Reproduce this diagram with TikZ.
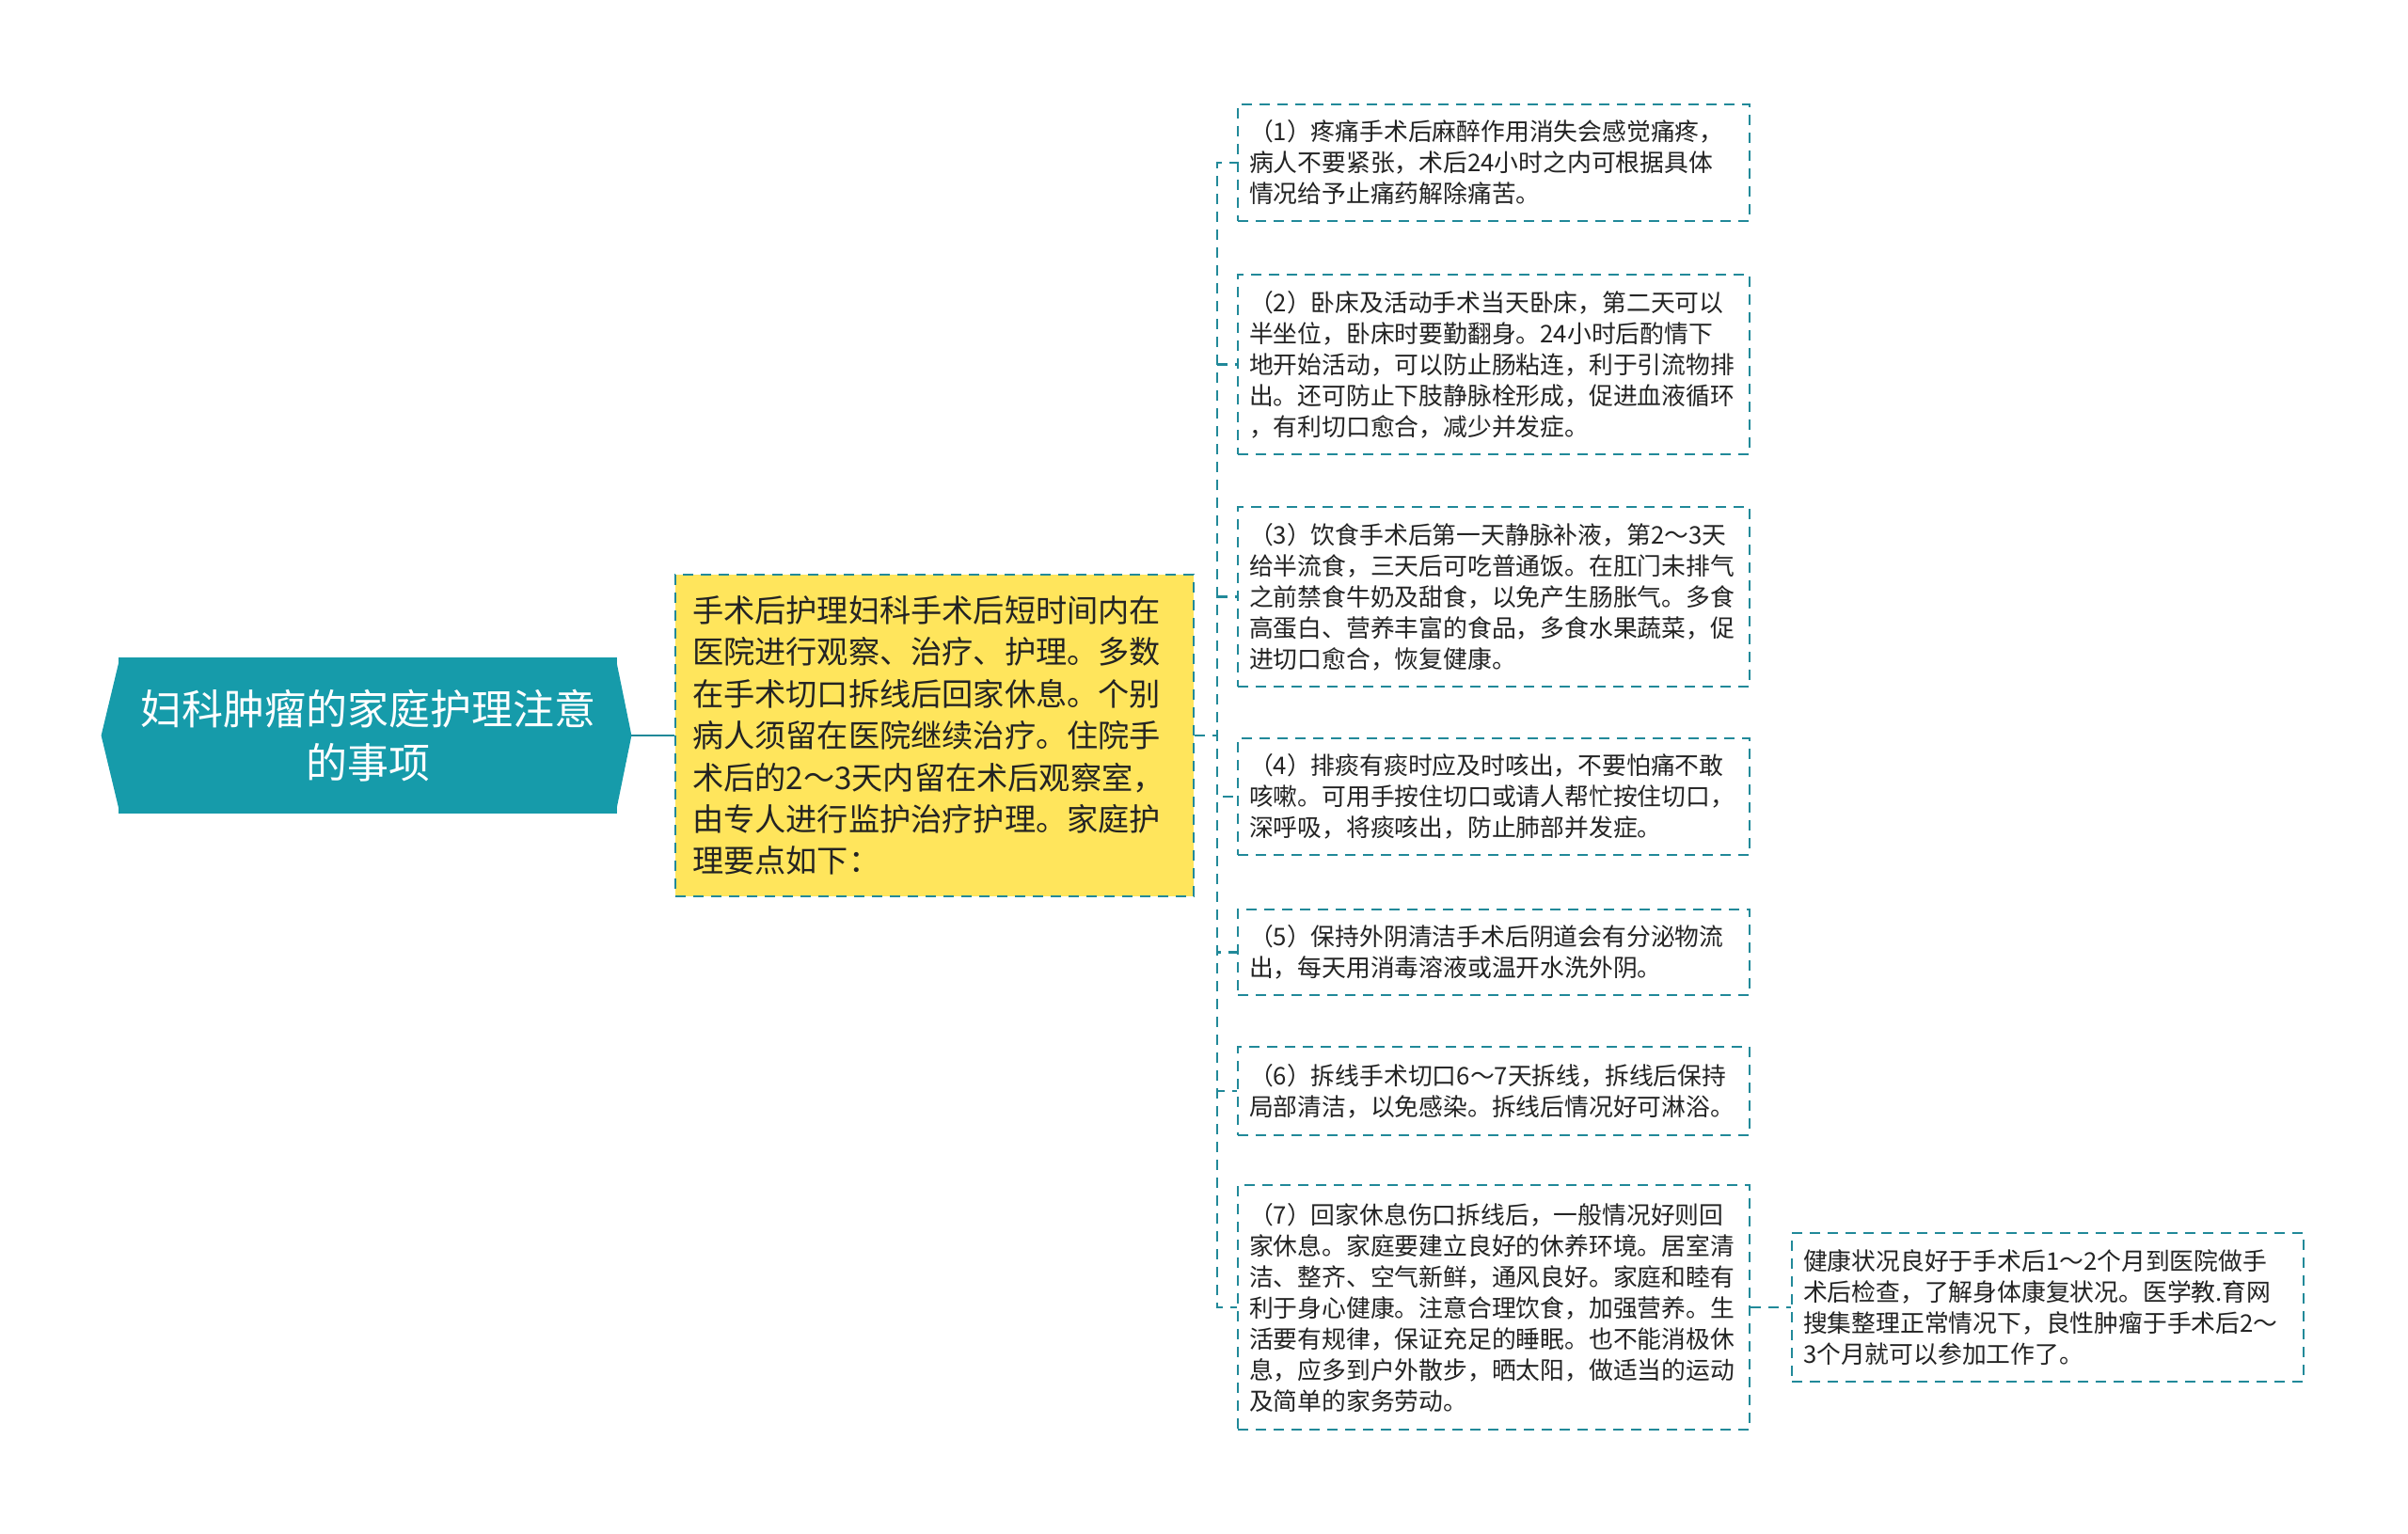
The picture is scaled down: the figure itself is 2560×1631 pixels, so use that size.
\documentclass[tikz,border=0pt]{standalone}
\usepackage{fontspec}
\setmainfont{Noto Sans CJK SC}
\usetikzlibrary{positioning}
\definecolor{lineteal}{RGB}{33,137,153}
\definecolor{rootteal}{RGB}{22,155,170}
\definecolor{noteyellow}{RGB}{255,229,92}
\definecolor{ink}{RGB}{35,35,35}

\begin{document}
\begin{tikzpicture}[x=0.5pt,y=-0.5pt,
    link/.style={lineteal, line width=1.1pt, dash pattern=on 5.5pt off 4pt},
    boxline/.style={draw=lineteal, line width=1.1pt, dash pattern=on 5.5pt off 4pt},
    rootbox/.style={fill=rootteal, text=white, align=center, minimum width=265pt, minimum height=83pt, font=\fontsize{22pt}{28.5pt}\selectfont},
    mainbox/.style={boxline, fill=noteyellow, text=ink, text width=257.5pt, inner xsep=9pt, minimum height=171pt, align=left, font=\fontsize{16.6pt}{22.2pt}\selectfont},
    notebox/.style={boxline, text=ink, text width=260pt, inner xsep=6pt, inner ysep=4pt, align=left, font=\fontsize{12.9pt}{16.5pt}\selectfont}]

    \useasboundingbox (0,0) rectangle (2560,1631);

    % root
    \node[rootbox] (root) at (391,782) {妇科肿瘤的家庭护理注意\\的事项};
    \fill[rootteal] ([xshift=1pt]root.north west) -- ([xshift=-9pt]root.west) -- ([xshift=1pt]root.south west) -- cycle;
    \fill[rootteal] ([xshift=-1pt]root.north east) -- ([xshift=7.5pt]root.east) -- ([xshift=-1pt]root.south east) -- cycle;
    \coordinate (roottip) at ([xshift=7.5pt]root.east);

    \node[mainbox] (main) at (993.5,782) {手术后护理妇科手术后短时间内在\\医院进行观察、治疗、护理。多数\\在手术切口拆线后回家休息。个别\\病人须留在医院继续治疗。住院手\\术后的2～3天内留在术后观察室，\\由专人进行监护治疗护理。家庭护\\理要点如下：};

    % notes
    \node[notebox, minimum height=62pt] (n1) at (1588,173) {（1）疼痛手术后麻醉作用消失会感觉痛疼，\\病人不要紧张，术后24小时之内可根据具体\\情况给予止痛药解除痛苦。};
    \node[notebox, minimum height=95.5pt] (n2) at (1588,387.5) {（2）卧床及活动手术当天卧床，第二天可以\\半坐位，卧床时要勤翻身。24小时后酌情下\\地开始活动，可以防止肠粘连，利于引流物排\\出。还可防止下肢静脉栓形成，促进血液循环\\，有利切口愈合，减少并发症。};
    \node[notebox, minimum height=95.5pt] (n3) at (1588,634.5) {（3）饮食手术后第一天静脉补液，第2～3天\\给半流食，三天后可吃普通饭。在肛门未排气\\之前禁食牛奶及甜食，以免产生肠胀气。多食\\高蛋白、营养丰富的食品，多食水果蔬菜，促\\进切口愈合，恢复健康。};
    \node[notebox, minimum height=62pt] (n4) at (1588,847) {（4）排痰有痰时应及时咳出，不要怕痛不敢\\咳嗽。可用手按住切口或请人帮忙按住切口，\\深呼吸，将痰咳出，防止肺部并发症。};
    \node[notebox, minimum height=45.5pt] (n5) at (1588,1012.5) {（5）保持外阴清洁手术后阴道会有分泌物流\\出，每天用消毒溶液或温开水洗外阴。};
    \node[notebox, minimum height=47pt] (n6) at (1588,1160) {（6）拆线手术切口6～7天拆线，拆线后保持\\局部清洁，以免感染。拆线后情况好可淋浴。};
    \node[notebox, minimum height=130pt] (n7) at (1588,1390) {（7）回家休息伤口拆线后，一般情况好则回\\家休息。家庭要建立良好的休养环境。居室清\\洁、整齐、空气新鲜，通风良好。家庭和睦有\\利于身心健康。注意合理饮食，加强营养。生\\活要有规律，保证充足的睡眠。也不能消极休\\息，应多到户外散步，晒太阳，做适当的运动\\及简单的家务劳动。};
    \node[notebox, minimum height=79pt] (n8) at (2177,1390) {健康状况良好于手术后1～2个月到医院做手\\术后检查，了解身体康复状况。医学教.育网\\搜集整理正常情况下，良性肿瘤于手术后2～\\3个月就可以参加工作了。};

    % connectors
    \draw[lineteal, line width=1.1pt] (roottip) -- (main.west);
    \foreach \b in {n1,n2,n3,n4,n5,n6,n7}
        \draw[link] (main.east) -- ++(24,0) |- (\b.west);
    \draw[link] (n7.east) -- (n8.west);

\end{tikzpicture}
\end{document}
